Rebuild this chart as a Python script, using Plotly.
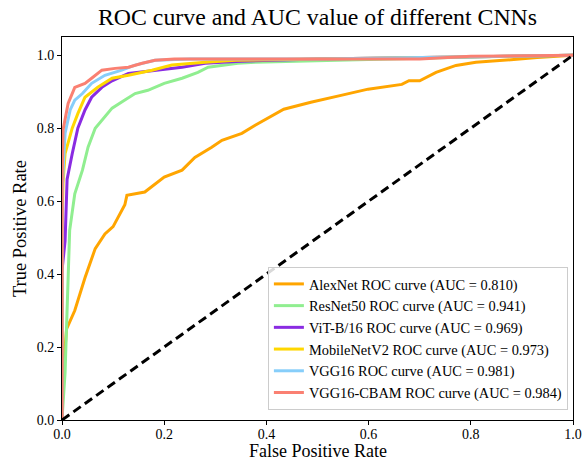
import plotly.graph_objects as go

# ---- data ----
alex_fpr = [0.0, 0.0, 0.002, 0.009, 0.025, 0.045, 0.065, 0.084, 0.10, 0.123, 0.127, 0.162, 0.176, 0.20, 0.235,
            0.26, 0.293, 0.313, 0.352, 0.378, 0.434, 0.487, 0.546, 0.599, 0.665, 0.679, 0.70, 0.732, 0.771,
            0.81, 0.863, 0.93, 1.0]
alex_tpr = [0.0, 0.0, 0.13, 0.25, 0.30, 0.39, 0.47, 0.51, 0.53, 0.59, 0.616, 0.625, 0.64, 0.666, 0.685,
            0.72, 0.748, 0.767, 0.786, 0.808, 0.852, 0.871, 0.89, 0.907, 0.92, 0.93, 0.93, 0.953, 0.972,
            0.981, 0.986, 0.994, 1.0]

res_fpr = [0.0, 0.006, 0.015, 0.025, 0.04, 0.051, 0.065, 0.084, 0.098, 0.123, 0.143, 0.168, 0.20, 0.235,
           0.266, 0.286, 0.344, 0.378, 0.5, 0.6, 0.8, 1.0]
res_tpr = [0.0, 0.13, 0.52, 0.62, 0.685, 0.748, 0.80, 0.83, 0.855, 0.877, 0.895, 0.904, 0.923, 0.937,
           0.953, 0.967, 0.978, 0.981, 0.985, 0.99, 0.995, 1.0]

vit_fpr = [0.0, 0.0, 0.006, 0.01, 0.02, 0.031, 0.045, 0.058, 0.078, 0.098, 0.13, 0.182, 0.235, 0.28,
           0.34, 0.5, 0.8, 1.0]
vit_tpr = [0.0, 0.41, 0.49, 0.66, 0.73, 0.80, 0.85, 0.885, 0.912, 0.93, 0.95, 0.959, 0.967, 0.978,
           0.983, 0.99, 0.996, 1.0]

mob_fpr = [0.0, 0.0, 0.002, 0.006, 0.02, 0.031, 0.045, 0.07, 0.098, 0.13, 0.176, 0.215, 0.28, 0.34,
           0.5, 0.8, 1.0]
mob_tpr = [0.0, 0.52, 0.65, 0.73, 0.80, 0.84, 0.885, 0.912, 0.937, 0.945, 0.959, 0.973, 0.981, 0.986,
           0.99, 0.995, 1.0]

vgg_fpr = [0.0, 0.0, 0.006, 0.016, 0.025, 0.04, 0.058, 0.084, 0.117, 0.143, 0.182, 0.25, 0.5, 0.8, 1.0]
vgg_tpr = [0.0, 0.62, 0.786, 0.85, 0.877, 0.895, 0.923, 0.945, 0.959, 0.973, 0.986, 0.99, 0.99, 0.997, 1.0]

cbam_fpr = [0.0, 0.0, 0.002, 0.012, 0.025, 0.045, 0.058, 0.078, 0.104, 0.13, 0.157, 0.182, 0.22, 0.7,
            0.8, 1.0]
cbam_tpr = [0.0, 0.63, 0.795, 0.868, 0.912, 0.923, 0.937, 0.959, 0.964, 0.967, 0.978, 0.986, 0.99, 0.99,
            0.997, 1.0]

names = ["AlexNet", "ResNet50", "ViT-B/16", "MobileNetV2", "VGG16", "VGG16-CBAM"]
aucs = [0.810, 0.941, 0.969, 0.973, 0.981, 0.984]
colors = ["#FFA500", "#90EE90", "#8A2BE2", "#FFD700", "#87CEFA", "#FA8072"]
fprs = [alex_fpr, res_fpr, vit_fpr, mob_fpr, vgg_fpr, cbam_fpr]
tprs = [alex_tpr, res_tpr, vit_tpr, mob_tpr, vgg_tpr, cbam_tpr]
tick_vals = [0, 0.2, 0.4, 0.6, 0.8, 1.0]
tick_text = ["0.0", "0.2", "0.4", "0.6", "0.8", "1.0"]

FONT = "Liberation Serif, Times New Roman, serif"

fig = go.Figure()
for n, a, c, fx, fy in zip(names, aucs, colors, fprs, tprs):
    fig.add_trace(go.Scatter(x=fx, y=fy, mode="lines", line=dict(color=c, width=3),
                             name=f"{n} ROC curve (AUC = {a:.3f})"))

fig.add_trace(go.Scatter(x=[0, 1], y=[0, 1], mode="lines",
                         line=dict(color="black", width=3, dash="9px,5px"), showlegend=False))

fig.update_layout(
    width=584, height=461,
    margin=dict(l=62, r=11, t=37, b=41),
    paper_bgcolor="white", plot_bgcolor="white",
    font=dict(family=FONT, color="black", size=14),
    title=dict(text="ROC curve and AUC value of different CNNs", x=0.5, xanchor="center", xref="paper",
               y=0.963, yanchor="middle", font=dict(size=23.8, family=FONT)),
    legend=dict(x=0.99, xanchor="right", y=0.026, yanchor="bottom",
                bgcolor="rgba(255,255,255,0.85)", bordercolor="#cccccc", borderwidth=1,
                font=dict(size=14.4, family=FONT), itemwidth=30),
    showlegend=True,
    annotations=[
        dict(text="False Positive Rate", xref="paper", yref="paper", x=0.5, y=-0.081,
             xanchor="center", yanchor="middle", showarrow=False, font=dict(size=18, family=FONT)),
        dict(text="True Positive Rate", xref="paper", yref="paper", x=-0.083, y=0.5,
             xanchor="center", yanchor="middle", textangle=-90, showarrow=False,
             font=dict(size=18.5, family=FONT)),
    ],
)
axis_common = dict(tickvals=tick_vals, ticktext=tick_text, showgrid=False, zeroline=False,
                   showline=True, linecolor="black", linewidth=1, mirror=True, ticks="outside",
                   ticklen=4, tickcolor="black", tickfont=dict(size=14, family=FONT),
                   automargin=False)
fig.update_xaxes(range=[0, 1], ticklabelstandoff=-3, **axis_common)
fig.update_yaxes(range=[0, 1.05], **axis_common)

fig.write_html("out.html")
